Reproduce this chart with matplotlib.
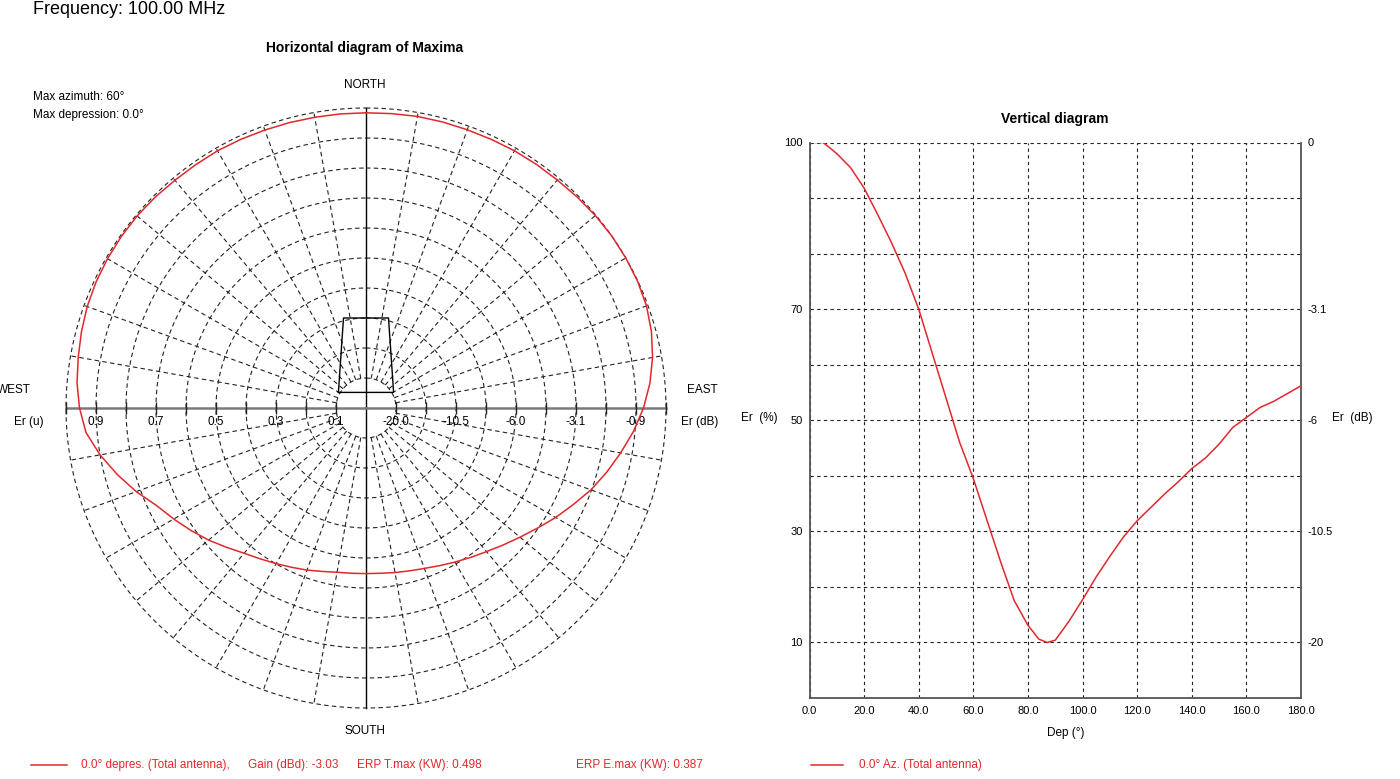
import numpy as np
import matplotlib
matplotlib.use('Agg')
import matplotlib.pyplot as plt

plt.rcParams['font.family'] = ['Liberation Sans', 'DejaVu Sans']

# horizontal diagram: azimuth (deg, clockwise from north) -> relative field Er (u)
AZIMUTH = list(range(0, 360, 5))
ER_H = [0.984, 0.985, 0.987, 0.987, 0.987, 0.988, 0.990, 0.991, 0.992, 0.995,
        0.998, 1.000, 1.000, 0.999, 0.995, 0.985, 0.970, 0.950, 0.925, 0.895,
        0.862, 0.830, 0.798, 0.762, 0.730, 0.698, 0.670, 0.646, 0.625, 0.608,
        0.593, 0.580, 0.569, 0.562, 0.557, 0.553, 0.552, 0.553, 0.556, 0.564,
        0.575, 0.586, 0.599, 0.614, 0.632, 0.657, 0.685, 0.712, 0.740, 0.770,
        0.815, 0.858, 0.900, 0.937, 0.955, 0.967, 0.974, 0.982, 0.989, 0.993,
        0.995, 0.996, 0.996, 0.994, 0.991, 0.990, 0.990, 0.988, 0.986, 0.985,
        0.984, 0.984]
RINGS = [0.1, 0.2, 0.3, 0.4, 0.5, 0.6, 0.7, 0.8, 0.9, 1.0]
RING_LABELS = [0.9, 0.7, 0.5, 0.3, 0.1]

# antenna outline drawn in the middle of the horizontal diagram (x east, y north)
ANTENNA_X = [-0.092, -0.075, 0.075, 0.092, -0.092]
ANTENNA_Y = [0.052, 0.300, 0.300, 0.052, 0.052]

# vertical diagram: depression (deg) -> Er (%)
DEP = [0, 5, 10, 15, 20, 25, 30, 35, 40, 45, 50, 55, 60, 65, 70, 75, 80, 84, 87,
       90, 95, 100, 105, 110, 115, 120, 125, 130, 135, 140, 145, 150, 155, 160,
       165, 170, 175, 180]
ER_V = [100, 100, 98, 95.5, 91.8, 87, 82, 76.5, 70, 62, 54, 46, 39.5, 32, 24.5,
        17.5, 13.1, 10.6, 10, 10.4, 13.8, 17.7, 21.8, 25.5, 29, 31.9, 34.3, 36.7,
        38.9, 41.3, 43.2, 45.7, 48.7, 50.5, 52.3, 53.4, 54.8, 56.2]
V_LABELS = [100, 70, 50, 30, 10]
DEP_TICKS = list(range(0, 181, 20))

RED = '#e2282c'
W, H = 1400, 779


def fx(x):
  return x / W


def fy(y):
  return 1 - y / H


fig = plt.figure(figsize=(W / 100, H / 100), dpi=100)

# ---- horizontal (polar) diagram
cx, cy, R = 366, 408, 300
axp = fig.add_axes([fx(cx - R), fy(cy + R), 2 * R / W, 2 * R / H], projection='polar')
axp.set_theta_zero_location('N')
axp.set_theta_direction(-1)
axp.set_ylim(0, 1)
axp.set_xticks([])
axp.set_yticks([])
axp.grid(False)
axp.spines['polar'].set_visible(False)
axp.patch.set_visible(False)

dash = (0, (4, 3))
circ = np.linspace(0, 2 * np.pi, 721)
for r in RINGS:
  axp.plot(circ, np.full_like(circ, r), color='#222222', lw=0.8, ls=dash, clip_on=False)
for a in range(0, 360, 10):
  if a % 90 == 0:
    continue
  axp.plot([np.radians(a)] * 2, [RINGS[0], 1.0], color='#222222', lw=0.8, ls=dash,
           clip_on=False)

# north-south and west-east axes
axp.plot([0, 0], [1, 0], color='black', lw=1.0, clip_on=False)
axp.plot([np.pi, np.pi], [0, 1], color='black', lw=1.0, clip_on=False)
axp.plot([np.pi / 2, np.pi / 2], [1, 0], color='#7a7a7a', lw=1.8, clip_on=False)
axp.plot([3 * np.pi / 2, 3 * np.pi / 2], [0, 1], color='#7a7a7a', lw=1.8, clip_on=False)
for th in (np.pi / 2, 3 * np.pi / 2):
  axp.plot(np.full(len(RINGS), th), RINGS, ls='none', marker='|', ms=8, mew=1.0,
           color='#222222', clip_on=False)

# ring labels: linear on the west side, dB on the east side
for r in RING_LABELS:
  axp.annotate(f'{r:.1f}', xy=(3 * np.pi / 2, r), xytext=(0, -5.5),
               textcoords='offset points', ha='center', va='top', fontsize=8.5)
  axp.annotate(f'{20 * np.log10(r):.1f}', xy=(np.pi / 2, r), xytext=(0, -5.5),
               textcoords='offset points', ha='center', va='top', fontsize=8.5)

# antenna outline
ant_x = np.array(ANTENNA_X)
ant_y = np.array(ANTENNA_Y)
axp.plot(np.arctan2(ant_x, ant_y), np.hypot(ant_x, ant_y), color='black', lw=1.0)

# pattern
az = np.radians(AZIMUTH + [360])
axp.plot(az, ER_H + [ER_H[0]], color=RED, lw=1.1, clip_on=False, zorder=5)

# ---- vertical diagram
axv = fig.add_axes([fx(809.5), fy(698), (1301 - 809.5) / W, (698 - 142.5) / H])
axv.plot(DEP, ER_V, color=RED, lw=1.1, zorder=5)
axv.set_xlim(0, 180)
axv.set_ylim(0, 100)
axv.set_xticks(DEP_TICKS)
axv.set_xticklabels([f'{d:.1f}' for d in DEP_TICKS])
yt = list(range(10, 101, 10))
axv.set_yticks(yt)
axv.set_yticklabels([str(v) if v in V_LABELS else '' for v in yt])
axv.grid(True, color='#222222', lw=0.8, ls=(0, (3, 3)))
axv.tick_params(length=0, labelsize=8)
axv.tick_params(axis='x', pad=6)
axv.tick_params(axis='y', pad=5)
axv.spines['top'].set_visible(False)
for s in ('left', 'right', 'bottom'):
  axv.spines[s].set_color('#555555')
  axv.spines[s].set_linewidth(1.3)

ax2 = axv.twinx()
ax2.set_ylim(0, 100)
ax2.set_yticks(yt)
ax2.set_yticklabels([f'{round(20 * np.log10(v / 100), 1):g}' if v in V_LABELS else ''
                     for v in yt])
ax2.tick_params(length=0, labelsize=8, pad=5)
for s in ax2.spines.values():
  s.set_visible(False)

# ---- texts
fig.text(fx(33), fy(10), 'Frequency: 100.00 MHz', fontsize=13, va='center')
fig.text(fx(365), fy(48), 'Horizontal diagram of Maxima', fontsize=10,
         fontweight='bold', ha='center', va='center')
fig.text(fx(33), fy(97), 'Max azimuth: 60°', fontsize=8.5, va='center')
fig.text(fx(33), fy(115), 'Max depression: 0.0°', fontsize=8.5, va='center')
fig.text(fx(365), fy(85), 'NORTH', fontsize=8.5, ha='center', va='center')
fig.text(fx(365), fy(731), 'SOUTH', fontsize=8.5, ha='center', va='center')
fig.text(fx(-3), fy(390), 'WEST', fontsize=8.5, va='center')
fig.text(fx(702), fy(390), 'EAST', fontsize=8.5, ha='center', va='center')
fig.text(fx(29), fy(422), 'Er (u)', fontsize=8.5, ha='center', va='center')
fig.text(fx(700), fy(422), 'Er (dB)', fontsize=8.5, ha='center', va='center')

fig.text(fx(1055), fy(119), 'Vertical diagram', fontsize=10, fontweight='bold',
         ha='center', va='center')
fig.text(fx(759), fy(418), 'Er  (%)', fontsize=8.5, ha='center', va='center')
fig.text(fx(1352), fy(418), 'Er  (dB)', fontsize=8.5, ha='center', va='center')
fig.text(fx(1066), fy(733), 'Dep (°)', fontsize=8.5, ha='center', va='center')

# ---- legends along the bottom
fig.lines.append(plt.Line2D([fx(31), fx(67)], [fy(765), fy(765)], color=RED, lw=1.1,
                            transform=fig.transFigure))
fig.lines.append(plt.Line2D([fx(811), fx(843)], [fy(765), fy(765)], color=RED, lw=1.1,
                            transform=fig.transFigure))
legend_texts = [(81, '0.0° depres. (Total antenna),'), (248, 'Gain (dBd): -3.03'),
                (357, 'ERP T.max (KW): 0.498'), (576, 'ERP E.max (KW): 0.387'),
                (859, '0.0° Az. (Total antenna)')]
for x, t in legend_texts:
  fig.text(fx(x), fy(765), t, fontsize=8.5, color=RED, va='center')

fig.savefig('out.png', dpi=100)
